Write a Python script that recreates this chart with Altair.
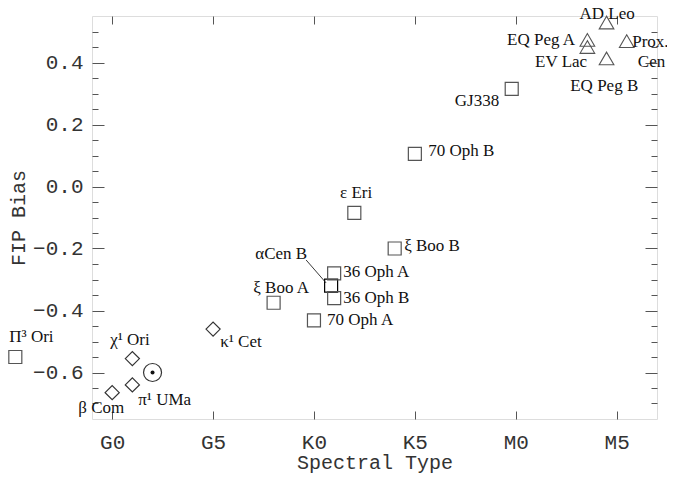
import altair as alt
import pandas as pd

# ---- data ----
names = ["Π³ Ori", "β Com", "χ¹ Ori", "π¹ UMa", "Sun", "κ¹ Cet", "ξ Boo A", "70 Oph A",
         "αCen B", "36 Oph A", "36 Oph B", "ε Eri", "ξ Boo B", "70 Oph B", "GJ338",
         "EQ Peg A", "EV Lac", "AD Leo", "EQ Peg B", "Prox. Cen"]
spectral = [-4.8, 0, 1, 1, 2, 5, 8, 10, 10.85, 11, 11, 12, 14, 15, 19.8,
            23.55, 23.55, 24.5, 24.5, 25.5]
fip = [-0.55, -0.665, -0.555, -0.64, -0.60, -0.46, -0.375, -0.432, -0.32, -0.28,
       -0.36, -0.085, -0.20, 0.105, 0.315, 0.473, 0.45, 0.529, 0.413, 0.469]
kinds = ["square", "diamond", "diamond", "diamond", "sun", "diamond", "square", "square",
         "square", "square", "square", "square", "square", "square", "square",
         "triangle", "triangle", "triangle", "triangle", "triangle"]

label_text = ["Π³ Ori", "β Com", "χ¹ Ori", "π¹ UMa", "κ¹ Cet", "ξ Boo A", "70 Oph A",
              "αCen B", "36 Oph A", "36 Oph B", "ε Eri", "ξ Boo B", "70 Oph B", "GJ338",
              "EQ Peg A", "EV Lac", "AD Leo", "EQ Peg B", "Prox.", "Cen"]
label_x = [-5.1, -1.68, -0.1, 1.29, 5.35, 6.99, 10.65, 7.09, 11.45, 11.45, 12.09, 14.47,
           15.66, 19.18, 22.94, 23.54, 24.53, 22.70, 25.77, 26.05]
label_y = [-0.485, -0.715, -0.495, -0.689, -0.502, -0.327, -0.431, -0.218, -0.276, -0.36,
           -0.021, -0.192, 0.115, 0.276, 0.473, 0.402, 0.555, 0.324, 0.466, 0.402]
label_align = ["left", "left", "left", "left", "left", "left", "left", "left", "left", "left",
               "center", "left", "left", "right", "right", "right", "center", "left", "left", "left"]

leader_x = [9.61]
leader_x2 = [10.60]
leader_y = [-0.237]
leader_y2 = [-0.311]

x_ticks = [0, 5, 10, 15, 20, 25]
x_tick_labels = ["G0", "G5", "K0", "K5", "M0", "M5"]
y_ticks = [-0.6, -0.4, -0.2, 0.0, 0.2, 0.4]
y_minor = [-0.7, -0.65, -0.55, -0.5, -0.45, -0.35, -0.3, -0.25, -0.15, -0.1, -0.05,
           0.05, 0.1, 0.15, 0.25, 0.3, 0.35, 0.45, 0.5]

# ---- build ----
MONO = "Liberation Mono"
SERIF = "Liberation Serif"
FRAME = "#555555"

df = pd.DataFrame(dict(name=names, spectral=spectral, fip=fip, kind=kinds))
labels_df = pd.DataFrame(dict(text=label_text, lx=label_x, ly=label_y, align=label_align))
leader_df = pd.DataFrame(dict(x=leader_x, x2=leader_x2, y=leader_y, y2=leader_y2))

xs = alt.Scale(domain=[-1, 27], nice=False, zero=False)
ys = alt.Scale(domain=[-0.75, 0.55], nice=False, zero=False)

label_expr = " : ".join(
    f"datum.value == {v} ? '{t}'" for v, t in zip(x_ticks, x_tick_labels)
) + " : ''"

base = alt.Chart(df)


def X(axis, field="spectral"):
    return alt.X(f"{field}:Q", scale=xs, axis=axis)


def Y(axis, field="fip"):
    return alt.Y(f"{field}:Q", scale=ys, axis=axis)


def tick_axis(orient, values, size, offset):
    return alt.Axis(orient=orient, values=values, tickSize=size, offset=offset,
                    labels=False, domain=False, grid=False, title=None,
                    ticks=True, tickColor=FRAME, tickWidth=1)


# axis with labels and titles
label_layer = base.mark_point(opacity=0).encode(
    x=X(alt.Axis(orient="bottom", values=x_ticks, labelExpr=label_expr, ticks=False,
                 tickSize=0, domain=False, grid=False, labelFont=MONO, labelFontSize=21,
                 labelColor="#333", labelPadding=12, title="Spectral Type",
                 titleFont=MONO, titleFontSize=20, titleFontWeight="normal",
                 titleColor="#333", titlePadding=0)),
    y=Y(alt.Axis(orient="left", values=y_ticks, format=".1f", ticks=False, tickSize=0,
                 domain=False, grid=False, labelFont=MONO, labelFontSize=21,
                 labelColor="#333", labelPadding=9, title="FIP Bias", titleFont=MONO,
                 titleFontSize=20, titleFontWeight="normal", titleColor="#333",
                 titlePadding=4)),
)

ticks1 = base.mark_point(opacity=0).encode(
    x=X(tick_axis("bottom", x_ticks, 8, -8)),
    y=Y(tick_axis("left", y_ticks, 12, -12)),
)
ticks2 = base.mark_point(opacity=0).encode(
    x=X(tick_axis("top", x_ticks, 8, -8)),
    y=Y(tick_axis("right", y_ticks, 12, -12)),
)
ticks3 = base.mark_point(opacity=0).encode(
    x=X(None),
    y=Y(tick_axis("left", y_minor, 6, -6)),
)
ticks4 = base.mark_point(opacity=0).encode(
    x=X(None),
    y=Y(tick_axis("right", y_minor, 6, -6)),
)

stroke_cond = alt.condition(alt.datum.name == "αCen B", alt.value("#000000"), alt.value("#555555"))

squares = base.transform_filter(alt.datum.kind == "square").mark_point(
    shape="square", size=169, filled=False, strokeWidth=1.2, opacity=1
).encode(x=X(None), y=Y(None), stroke=stroke_cond)

diamonds = base.transform_filter(alt.datum.kind == "diamond").mark_point(
    shape="diamond", size=200, filled=False, strokeWidth=1.2, color="#333333", opacity=1
).encode(x=X(None), y=Y(None))

triangles = base.transform_filter(alt.datum.kind == "triangle").mark_point(
    shape="triangle-up", size=215, filled=False, strokeWidth=1.1, color="#555555", opacity=1
).encode(x=X(None), y=Y(None))

sun_ring = base.transform_filter(alt.datum.kind == "sun").mark_point(
    shape="circle", size=324, filled=False, strokeWidth=1.2, color="#333333", opacity=1
).encode(x=X(None), y=Y(None))

sun_dot = base.transform_filter(alt.datum.kind == "sun").mark_point(
    shape="circle", size=16, filled=True, color="#111111", opacity=1
).encode(x=X(None), y=Y(None))

leader = alt.Chart(leader_df).mark_rule(color="#222222", strokeWidth=0.9).encode(
    x=X(None, "x"), x2="x2:Q", y=Y(None, "y"), y2="y2:Q"
)

text_layers = []
for a in ["left", "center", "right"]:
    text_layers.append(
        alt.Chart(labels_df).transform_filter(alt.datum.align == a).mark_text(
            align=a, baseline="middle", font=SERIF, fontSize=17, color="#111111"
        ).encode(x=X(None, "lx"), y=Y(None, "ly"), text="text:N")
    )

chart = alt.layer(
    label_layer, ticks1, ticks2, ticks3, ticks4,
    squares, diamonds, triangles, sun_ring, sun_dot, leader, *text_layers
).resolve_axis(
    x="independent", y="independent"
).properties(
    width=565, height=403,
    autosize=alt.AutoSizeParams(type="none"),
    padding={"left": 84, "top": 8, "right": 10, "bottom": 54},
).configure_view(
    stroke=FRAME, strokeWidth=1
).configure(background="white")

chart.save("out.html", embed_options={"renderer": "svg", "actions": False})
